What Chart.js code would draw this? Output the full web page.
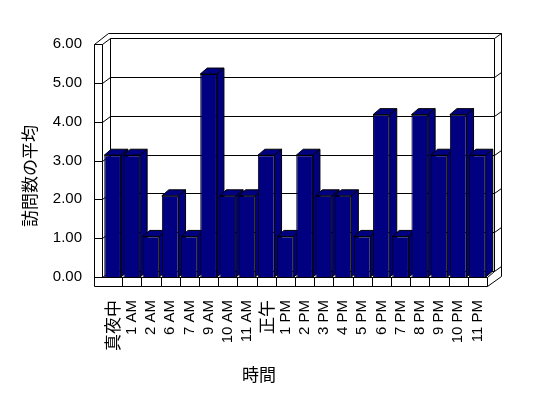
<!DOCTYPE html>
<html>
<head>
<meta charset="utf-8">
<script src="https://cdn.jsdelivr.net/npm/chart.js@4.4.0/dist/chart.umd.min.js"></script>
<style>
    html, body { margin: 0; padding: 0; background: #fff; }
    #wrap { width: 548px; height: 398px; position: relative; }
</style>
</head>
<body>
<div id="wrap"><canvas id="barChart"></canvas></div>
<script>
var jikan = ['真夜中', '1 AM', '2 AM', '6 AM', '7 AM', '9 AM', '10 AM', '11 AM', '正午', '1 PM',
             '2 PM', '3 PM', '4 PM', '5 PM', '6 PM', '7 PM', '8 PM', '9 PM', '10 PM', '11 PM'];
var heikin = [3, 3, 1, 2, 1, 5, 2, 2, 3, 1, 3, 2, 2, 1, 4, 1, 4, 3, 4, 3];
var yTicks = [0, 1, 2, 3, 4, 5, 6];
var yTitle = '訪問数の平均';
var xTitle = '時間';

var fontLatin = "'Liberation Sans', Arial, 'Noto Sans CJK JP', sans-serif";
var fontJp = "'Noto Sans CJK JP', sans-serif";
var navy = '#000080';

// depth of bars (excel style 3d column)
var DX = 7, DY = 6;

function line(c, x1, y1, x2, y2) {
    c.beginPath();
    c.moveTo(Math.round(x1) + 0.5, Math.round(y1) + 0.5);
    c.lineTo(Math.round(x2) + 0.5, Math.round(y2) + 0.5);
    c.stroke();
}

function poly(c, pts) {
    c.beginPath();
    c.moveTo(pts[0][0], pts[0][1]);
    for (var i = 1; i < pts.length; i++) c.lineTo(pts[i][0], pts[i][1]);
    c.closePath();
    c.fill();
    c.stroke();
}

var box3d = {
    id: 'box3d',
    beforeDatasetsDraw: function (chart) {
        var c = chart.ctx, a = chart.chartArea, y = chart.scales.y;
        var L0 = a.left - 9, L1 = a.left - 1, B0 = a.left + 7, B1 = a.right + 7, B2 = a.right + 14;
        var top = Math.round(y.getPixelForValue(yTicks[yTicks.length - 1]));
        var bot = Math.round(a.bottom);
        c.save();
        c.strokeStyle = '#000';
        c.lineWidth = 1;

        // walls
        line(c, L0, top, L0, bot + 9);
        line(c, L1, top, L1, bot);
        line(c, L0, top, B0 - 2, top - 11);
        line(c, B0 - 2, top - 11, B2, top - 11);
        line(c, B2, top - 11, B2, bot - 1);
        line(c, B0, top - 6, B0, bot - 6);
        line(c, B1, top - 6, B1, bot - 6);

        // gridlines on back wall
        yTicks.forEach(function (v) {
            var yf = Math.round(y.getPixelForValue(v));
            line(c, L0, yf, L1, yf);
            line(c, L1, yf, B0, yf - 6);
            line(c, B0, yf - 6, B1, yf - 6);
            line(c, B1, yf - 6, B2, yf - 11);
        });

        // floor
        line(c, L1, bot, a.right, bot);
        line(c, L0, bot + 9, a.right, bot + 9);
        var w = (a.right - a.left) / jikan.length;
        for (var i = 1; i <= jikan.length; i++) {
            line(c, a.left + i * w, bot, a.left + i * w, bot + 9);
        }
        line(c, a.right, bot, B1, bot - 6);
        line(c, a.right, bot + 9, B2, bot - 1);

        // top + side faces of the bars, front face is drawn by chart.js after this
        c.fillStyle = navy;
        chart.getDatasetMeta(0).data.forEach(function (bar) {
            var p = bar.getProps(['x', 'y', 'base', 'width'], true);
            var l = p.x - p.width / 2, r = p.x + p.width / 2;
            poly(c, [[l, p.y], [l + DX, p.y - DY], [r + DX, p.y - DY], [r, p.y]]);
            poly(c, [[r, p.y], [r + DX, p.y - DY], [r + DX, p.base - DY], [r, p.base]]);
        });
        c.restore();
    },
    afterDraw: function (chart) {
        var c = chart.ctx;
        c.save();
        c.fillStyle = '#000';
        c.font = '17px ' + fontJp;
        c.textAlign = 'center';
        c.textBaseline = 'middle';
        c.fillText(xTitle, 259, 375);
        c.translate(30, 176);
        c.rotate(-Math.PI / 2);
        c.fillText(yTitle, 0, 0);
        c.restore();
    }
};

new Chart(document.getElementById('barChart'), {
    type: 'bar',
    data: {
        labels: jikan,
        datasets: [
            {
                data: heikin,
                yAxisID: 'yb',
                backgroundColor: navy,
                borderColor: '#000',
                borderWidth: 1,
                barPercentage: 0.87,
                categoryPercentage: 1,
            },
        ],
    },
    options: {
        responsive: true,
        maintainAspectRatio: false,
        animation: false,
        events: [],
        layout: {
            padding: { left: 0, right: 61, top: 44, bottom: 0 },
        },
        plugins: {
            legend: { display: false },
            tooltip: { enabled: false },
        },
        scales: {
            x: {
                grid: { display: false, drawTicks: false },
                border: { display: false },
                afterFit: function (s) { s.height = 121; },
                ticks: {
                    autoSkip: false,
                    maxRotation: 90,
                    minRotation: 90,
                    padding: 23,
                    color: '#000',
                    font: function (ctx) {
                        var t = jikan[ctx.index] || '';
                        return /[^\x00-\x7f]/.test(t) ? { family: fontJp, size: 17 } : { family: fontLatin, size: 15 };
                    },
                },
            },
            y: {
                min: 0,
                max: 6,
                grid: { display: false, drawTicks: false },
                border: { display: false },
                afterFit: function (s) { s.width = 103; },
                afterBuildTicks: function (s) { s.ticks = yTicks.map(function (v) { return { value: v }; }); },
                ticks: {
                    padding: 21,
                    color: '#000',
                    font: { family: fontLatin, size: 15 },
                    callback: function (v) { return Number(v).toFixed(2); },
                },
            },
            // bars sit slightly in front of the back wall, so their scale is a bit taller
            yb: {
                display: false,
                min: 0,
                max: 5.74,
            },
        },
    },
    plugins: [box3d],
});
</script>
</body>
</html>
